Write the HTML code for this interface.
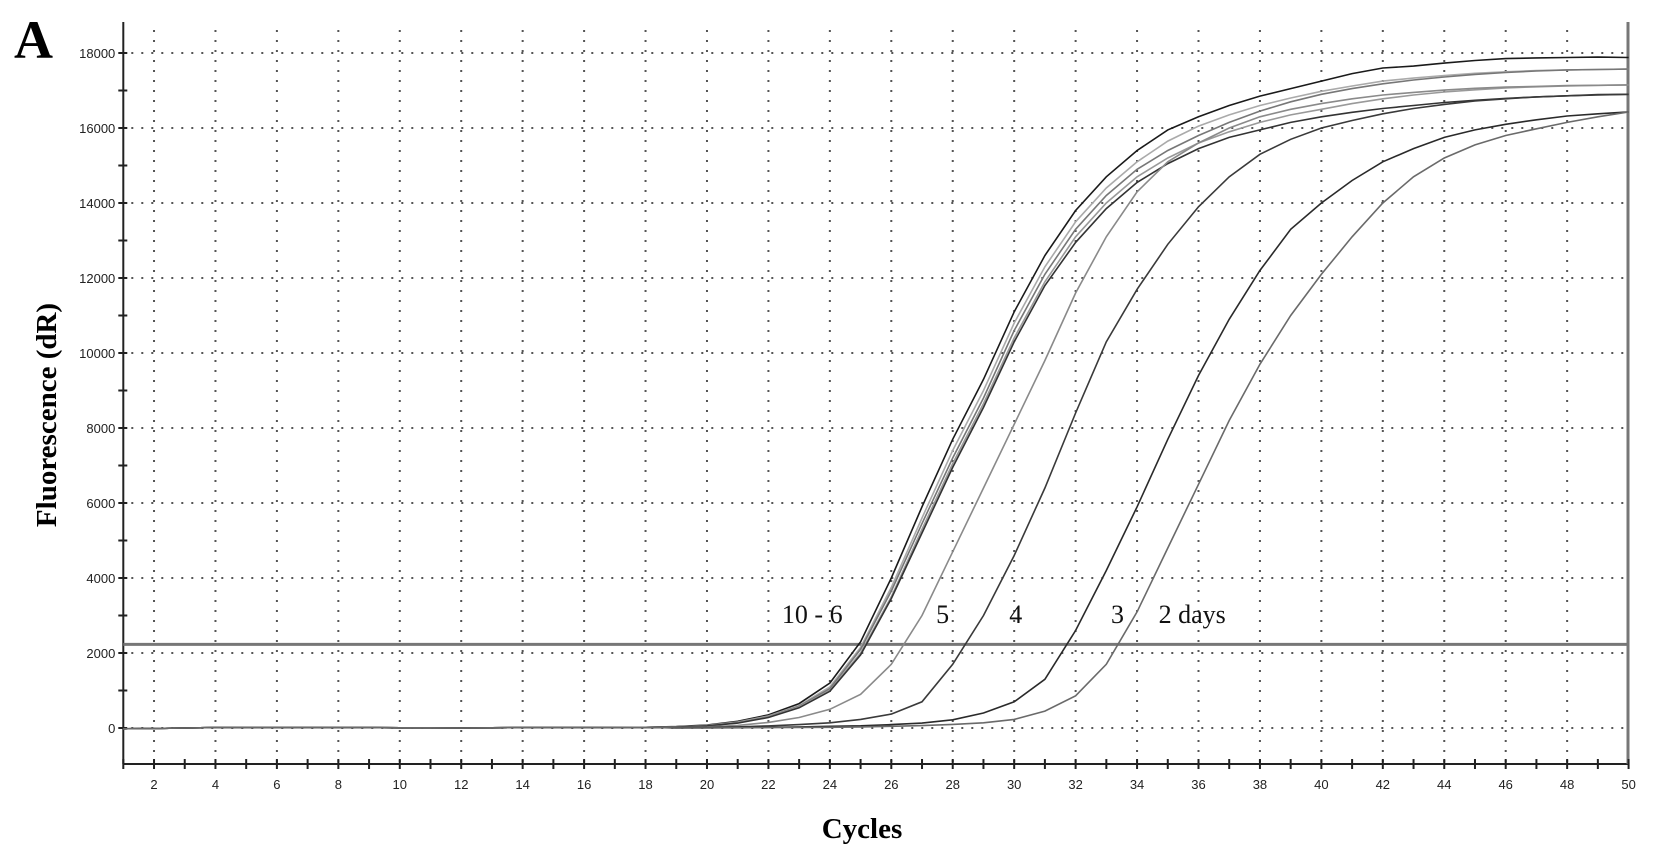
<!DOCTYPE html>
<html><head><meta charset="utf-8">
<style>
html,body{margin:0;padding:0;background:#fff;}
svg{display:block;}
</style></head>
<body>
<svg id="chart" width="1654" height="861" viewBox="0 0 1654 861" xmlns="http://www.w3.org/2000/svg">
  <text x="14" y="58" font-family="Liberation Serif, serif" font-weight="bold" font-size="54" fill="#000">A</text>
  <text transform="translate(56,415) rotate(-90)" text-anchor="middle" font-family="Liberation Serif, serif" font-weight="bold" font-size="29" fill="#000">Fluorescence (dR)</text>
  <text x="862" y="838" text-anchor="middle" font-family="Liberation Serif, serif" font-weight="bold" font-size="29" fill="#000">Cycles</text>
  <g id="grid"></g>
  <g id="axes"></g>
  <g id="series"></g>
  <g id="labels"></g>
</svg>
<script>
const cycles = Array.from({length:50},(_,i)=>i+1);
const yTicks = [0,2000,4000,6000,8000,10000,12000,14000,16000,18000];
const xTickLabels = [2,4,6,8,10,12,14,16,18,20,22,24,26,28,30,32,34,36,38,40,42,44,46,48,50];
const threshold = 2230;
const base = [-20,-10,0,10,15,15,10,15,10,5,5,0,5,10,10,10,15,20];
const day10 = base.concat([40,80,180,350,650,1200,2300,4000,5900,7700,9300,11100,12600,13800,14700,15400,15950,16300,16600,16850,17050,17250,17450,17600,17650,17730,17800,17850,17870,17880,17890,17880]);
const day9 = base.concat([30,70,160,320,600,1100,2150,3750,5600,7400,9000,10800,12300,13500,14400,15100,15650,16050,16350,16600,16800,16980,17120,17250,17330,17400,17460,17500,17530,17550,17560,17570]);
const day8 = base.concat([30,60,150,300,580,1050,2100,3650,5450,7200,8800,10600,12100,13300,14200,14900,15400,15800,16150,16450,16700,16900,17050,17180,17280,17360,17430,17480,17520,17550,17560,17570]);
const day7 = base.concat([25,60,140,290,560,1000,2000,3500,5300,7050,8650,10400,11900,13100,14000,14700,15200,15600,15900,16150,16350,16500,16650,16780,16880,16960,17020,17070,17100,17120,17140,17150]);
const day6 = base.concat([25,55,130,280,540,980,1950,3450,5200,6950,8550,10300,11800,12950,13850,14550,15050,15450,15750,15950,16150,16300,16420,16520,16600,16680,16740,16790,16830,16860,16880,16900]);
const day5 = base.concat([10,30,70,150,280,500,900,1700,3000,4700,6400,8100,9800,11600,13100,14300,15100,15600,16000,16300,16500,16650,16780,16880,16950,17010,17060,17090,17110,17130,17140,17150]);
const day4 = base.concat([5,15,30,55,90,140,230,370,700,1700,3000,4600,6400,8400,10300,11700,12900,13900,14700,15300,15700,16000,16200,16380,16520,16630,16720,16780,16830,16860,16890,16900]);
const day3 = base.concat([0,5,10,20,30,45,60,90,130,220,400,700,1300,2600,4200,5900,7700,9400,10900,12200,13300,14000,14600,15100,15450,15750,15950,16100,16220,16320,16380,16430]);
const day2 = base.concat([0,0,5,10,15,20,30,45,65,95,140,230,450,860,1700,3100,4800,6500,8200,9700,11000,12100,13100,14000,14700,15200,15550,15800,15980,16150,16300,16430]);
const seriesNames = ['day-10','day-9','day-8','day-7','day-6','day-5','day-4','day-3','day-2'];
const seriesValues = [day10,day9,day8,day7,day6,day5,day4,day3,day2];
const seriesColors = ['#1a1a1a','#aaaaaa','#777777','#999999','#333333','#8a8a8a','#3a3a3a','#2a2a2a','#6a6a6a'];
const curveLabels = ['10 - 6','5','4','3','2 days'];
const curveLabelCycles = [22.44,27.46,29.84,33.15,34.7];
const curveLabelValue = 2800;

const X0=123.3, XS=30.72, Y0=728, YS=75/2000, TOP=22, BOTTOM=764, RIGHT=1628;
const xs = c => X0+(c-1)*XS;
const ys = v => Y0 - v*YS;
const NS='http://www.w3.org/2000/svg';
function mk(tag, attrs, parent){const e=document.createElementNS(NS,tag);for(const k in attrs)e.setAttribute(k,attrs[k]);parent.appendChild(e);return e;}
const grid=document.getElementById('grid'), axes=document.getElementById('axes'), ser=document.getElementById('series'), lab=document.getElementById('labels');

xTickLabels.forEach(c=>{
  if(c===50) return;
  const l=mk('line',{x1:xs(c),x2:xs(c),y1:TOP+8,y2:BOTTOM,stroke:'#555','stroke-width':2,'stroke-dasharray':'2 8'},grid);
  
  
});
yTicks.forEach(v=>{
  const l=mk('line',{x1:X0+8,x2:RIGHT-4,y1:ys(v),y2:ys(v),stroke:'#555','stroke-width':2,'stroke-dasharray':'2 8'},grid);
  
  
});
let a=mk('line',{x1:X0,x2:X0,y1:TOP,y2:BOTTOM,stroke:'#222','stroke-width':2},axes);


a=mk('line',{x1:X0,x2:RIGHT,y1:BOTTOM,y2:BOTTOM,stroke:'#222','stroke-width':2},axes);


a=mk('line',{x1:RIGHT,x2:RIGHT,y1:TOP,y2:BOTTOM,stroke:'#777','stroke-width':3},axes);


for(let v=0; v<=18000; v+=1000){
  const t=mk('line',{x1:X0-5,x2:X0+4,y1:ys(v),y2:ys(v),stroke:'#222','stroke-width':2},axes);
  
  
}
yTicks.forEach(v=>{
  const t=mk('text',{x:X0-8,y:ys(v)+5,'text-anchor':'end','font-family':'Liberation Sans, sans-serif','font-size':13,fill:'#222'},axes);
  t.textContent=v;
  
  
});
cycles.forEach(c=>{
  const t=mk('line',{x1:xs(c),x2:xs(c),y1:BOTTOM-5,y2:BOTTOM+5,stroke:'#222','stroke-width':2},axes);
  
  
});
xTickLabels.forEach(c=>{
  const t=mk('text',{x:xs(c),y:BOTTOM+25,'text-anchor':'middle','font-family':'Liberation Sans, sans-serif','font-size':13,fill:'#222'},axes);
  t.textContent=c;
  
  
});
const th=mk('line',{x1:X0,x2:RIGHT,y1:ys(threshold),y2:ys(threshold),stroke:'#777','stroke-width':3},ser);


seriesValues.forEach((vals,i)=>{
  const d=vals.map((v,j)=>(j?'L':'M')+xs(cycles[j]).toFixed(1)+','+ys(v).toFixed(1)).join(' ');
  const p=mk('path',{d:d,fill:'none',stroke:seriesColors[i],'stroke-width':1.6},ser);
  
  
});
curveLabels.forEach((s,i)=>{
  const t=mk('text',{x:xs(curveLabelCycles[i]),y:ys(curveLabelValue),'font-family':'Liberation Serif, serif','font-size':26,fill:'#111'},lab);
  t.textContent=s;
  
  
});
</script>
</body></html>
